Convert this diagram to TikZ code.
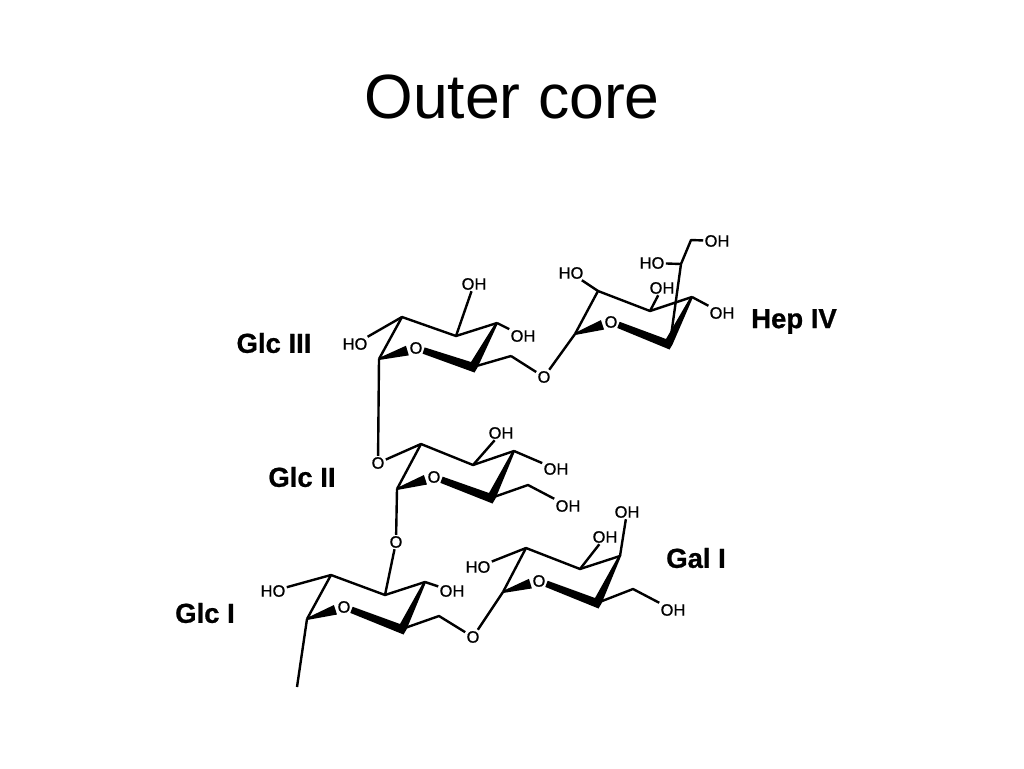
\documentclass[tikz,border=0pt]{standalone}
\usepackage{fontspec}
\setmainfont{Liberation Sans}
\newfontfamily\atomfont[FakeBold=0.6]{Liberation Sans}
\newfontfamily\sugarfont[FakeBold=0.8]{Liberation Sans Bold}
\usetikzlibrary{calc}
\tikzset{
  bond/.style={line width=2.4pt,line join=round,line cap=butt},
  atom/.style={inner sep=1.2pt,font=\fontsize{16.5}{17}\atomfont},
  sugar/.style={inner sep=0pt,font=\fontsize{27.5}{28}\sugarfont},
  titletext/.style={inner sep=0pt,font=\fontsize{62.5}{63}\selectfont},
  wedge/.style={fill=black,draw=none}
}
% wedge between two named points: half-width wa at a and wb at b
\newcommand{\wedgebond}[4]{\fill[wedge] ($(#1)!#3!90:(#2)$) -- ($(#1)!#3!-90:(#2)$) -- ($(#2)!#4!90:(#1)$) -- ($(#2)!#4!-90:(#1)$) -- cycle;}
% ring: prefix; thin bonds, one bold polygon through c5, ring oxygen
\newcommand{\sugarring}[1]{%
  \draw[bond] (#1c1) -- (#1c2) -- (#1c3) -- (#1c4);
  \coordinate (#1wa) at ($(#1o)!8pt!(#1c5)$);
  \coordinate (#1wb) at ($(#1o)!9pt!(#1c1)$);
  \fill[wedge] ($(#1c4)+(1.3,-0.5)$) -- ($(#1c5)+(4.5,0.5)$) -- ($(#1c5)+(1.5,5.5)$)
     -- ($(#1wa)!3.3pt!-90:(#1c5)$) -- ($(#1wa)!3.3pt!90:(#1c5)$)
     -- ($(#1c5)+(-2,-5)$) -- ($(#1c4)+(-1.3,-0.5)$) -- cycle;
  \wedgebond{#1c1}{#1wb}{1pt}{5pt}
}
\begin{document}
\begin{tikzpicture}[x=1pt,y=-1pt]
\useasboundingbox[fill=white] (0,0) rectangle (1024,768);
\node[titletext] (title) at (512,97) {Outer core};
% sugar names
\node[sugar] (nIII) at (274,343) {Glc III};
\node[sugar] (nHep) at (794,321.5) {Hep IV};
\node[sugar] (nII) at (302,477) {Glc II};
\node[sugar] (nGal) at (696,558) {Gal I};
\node[sugar] (nI) at (205,613) {Glc I};
% Glc III
\coordinate (Ac1) at (379,359);
\coordinate (Ac2) at (402,317);
\coordinate (Ac3) at (456,336);
\coordinate (Ac4) at (497,323);
\coordinate (Ac5) at (473,367);
\coordinate (Ac6) at (511,356);
\node[atom] (Ao) at (416,348) {O};
\node[atom] (Aoh3) at (474,284) {OH};
\node[atom] (Aoh4) at (523,336) {OH};
\node[atom] (Aho) at (355,344) {HO};
\sugarring{A}
\draw[bond] (Ac3) -- (Aoh3);
\draw[bond] (Ac4) -- (Aoh4);
\draw[bond] (Ac2) -- (Aho);
\draw[bond] (Ac5) -- (Ac6);
% link Glc III - Hep IV
\node[atom] (Lo1) at (544,377) {O};
\draw[bond] (Ac6) -- (Lo1);
% Hep IV
\coordinate (Bc1) at (575,334);
\coordinate (Bc2) at (598,291);
\coordinate (Bc3) at (650,311);
\coordinate (Bc4) at (692,297);
\coordinate (Bc5) at (668,344);
\node[atom] (Bo) at (611,322) {O};
\node[atom] (Boh3) at (662,288) {OH};
\node[atom] (Bho2) at (571,273) {HO};
\node[atom] (Boh4) at (722,313) {OH};
\sugarring{B}
\draw[bond] (Lo1) -- (Bc1);
\draw[bond] (Bc3) -- (Boh3);
\draw[bond] (Bc2) -- (Bho2);
\draw[bond] (Bc4) -- (Boh4);
\coordinate (Bs0) at (671,336);
\coordinate (Bs1) at (681,264);
\coordinate (Bs2) at (691,240);
\node[atom] (Bsoh) at (717,241) {OH};
\node[atom] (Bsho) at (652,263) {HO};
\draw[bond] (Bs0) -- (Bs1) -- (Bs2) -- (Bsoh);
\draw[bond] (Bs1) -- (Bsho);
% Glc II
\node[atom] (Lo2) at (378,463) {O};
\draw[bond] (Ac1) -- (Lo2);
\coordinate (Cc1) at (397,489);
\coordinate (Cc2) at (421,444);
\coordinate (Cc3) at (473,465);
\coordinate (Cc4) at (514,451);
\coordinate (Cc5) at (491,498);
\coordinate (Cc6) at (528,485);
\node[atom] (Co) at (434,477) {O};
\node[atom] (Coh3) at (501,433) {OH};
\node[atom] (Coh4) at (556,469) {OH};
\node[atom] (Coh6) at (568,506) {OH};
\sugarring{C}
\draw[bond] (Lo2) -- (Cc2);
\draw[bond] (Cc3) -- (Coh3);
\draw[bond] (Cc4) -- (Coh4);
\draw[bond] (Cc5) -- (Cc6) -- (Coh6);
% link Glc II - Glc I
\node[atom] (Lo3) at (396,542) {O};
\draw[bond] (Cc1) -- (Lo3);
% Glc I
\coordinate (Dc1) at (307,619);
\coordinate (Dc2) at (331,575);
\coordinate (Dc3) at (385,595);
\coordinate (Dc4) at (425,582);
\coordinate (Dc5) at (402,629);
\coordinate (Dc6) at (439,616);
\coordinate (Dtail) at (297,687);
\node[atom] (Do) at (344,607) {O};
\node[atom] (Dho) at (273,591) {HO};
\node[atom] (Doh) at (452,591) {OH};
\sugarring{D}
\draw[bond] (Lo3) -- (Dc3);
\draw[bond] (Dc2) -- (Dho);
\draw[bond] (Dc4) -- (Doh);
\draw[bond] (Dc1) -- (Dtail);
\node[atom] (Lo4) at (473,637) {O};
\draw[bond] (Dc5) -- (Dc6) -- (Lo4);
% Gal I
\coordinate (Ec1) at (503,592);
\coordinate (Ec2) at (526,548);
\coordinate (Ec3) at (580,569);
\coordinate (Ec4) at (620,556);
\coordinate (Ec5) at (597,603);
\coordinate (Ec6) at (633,589);
\node[atom] (Eo) at (539,581) {O};
\node[atom] (Eho) at (478,567) {HO};
\node[atom] (Eoh3) at (605,537) {OH};
\node[atom] (Eoh4) at (627,512) {OH};
\node[atom] (Eoh6) at (673,610) {OH};
\sugarring{E}
\draw[bond] (Lo4) -- (Ec1);
\draw[bond] (Ec2) -- (Eho);
\draw[bond] (Ec3) -- (Eoh3);
\draw[bond] (Ec4) -- (Eoh4);
\draw[bond] (Ec5) -- (Ec6) -- (Eoh6);
\end{tikzpicture}
\end{document}
